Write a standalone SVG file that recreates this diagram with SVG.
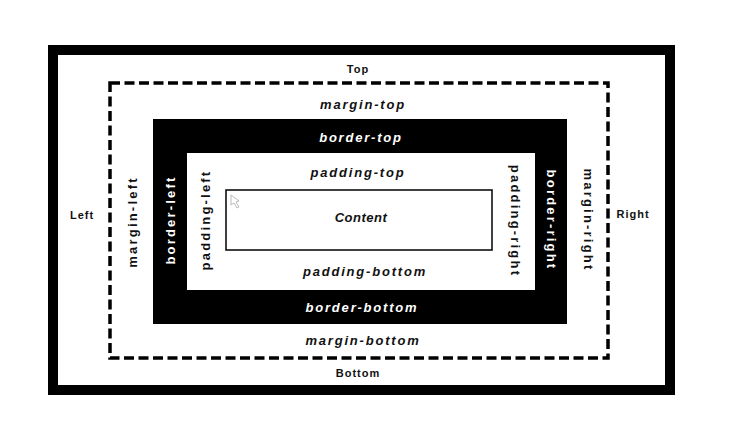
<svg xmlns="http://www.w3.org/2000/svg" width="738" height="446" viewBox="0 0 738 446">
<style>
.lbl{font-family:"Liberation Sans",Arial,sans-serif;font-weight:bold;font-size:11px;fill:#111;text-anchor:middle;dominant-baseline:central;letter-spacing:1px}
.it{font-family:"Liberation Sans",Arial,sans-serif;font-weight:bold;font-style:italic;font-size:13px;fill:#111;text-anchor:middle;dominant-baseline:central;letter-spacing:1.8px}
.vt{font-family:"Liberation Sans",Arial,sans-serif;font-weight:bold;font-size:13px;fill:#111;text-anchor:middle;dominant-baseline:central;letter-spacing:2.2px}
.w{fill:#fff}
</style>
<rect width="738" height="446" fill="#fff"/>
<g id="outer">
<rect x="53" y="50" width="617" height="340" fill="none" stroke="#000" stroke-width="10"/>
<text class="lbl" x="358" y="69">Top</text>
<text class="lbl" x="358" y="373">Bottom</text>
<text class="lbl" x="82" y="215">Left</text>
<text class="lbl" x="633" y="214">Right</text>
</g>
<g id="margin">
<rect x="110" y="83" width="498" height="275" fill="none" stroke="#000" stroke-width="3.5" stroke-dasharray="10,4.5"/>
<text class="it" x="363" y="104">margin-top</text>
<text class="it" x="363" y="340">margin-bottom</text>
<text class="vt" transform="translate(132 222) rotate(-90)">margin-left</text>
<text class="vt" transform="translate(588 220) rotate(90)">margin-right</text>
</g>
<g id="border">
<path d="M153 119H567V324H153Z M187 153V290H535V153Z" fill="#000" fill-rule="evenodd"/>
<text class="it w" x="361" y="137">border-top</text>
<text class="it w" x="362" y="307">border-bottom</text>
<text class="vt w" transform="translate(170 220) rotate(-90)">border-left</text>
<text class="vt w" transform="translate(551 220) rotate(90)">border-right</text>
</g>
<g id="padding">
<text class="it" x="358" y="172">padding-top</text>
<text class="it" x="365" y="271">padding-bottom</text>
<text class="vt" transform="translate(205 220) rotate(-90)">padding-left</text>
<text class="vt" transform="translate(515 221) rotate(90)">padding-right</text>
</g>
<g id="content">
<rect x="226" y="190" width="266" height="60" fill="none" stroke="#000" stroke-width="1.5"/>
<path d="M231 195L231 205L234 203L237 208L239 207L236 202L239 201Z" fill="none" stroke="#aaa" stroke-width="0.8"/>
<text class="it" x="361" y="217" style="letter-spacing:0.5px">Content</text>
</g>
<g id="connectors"></g>
</svg>
